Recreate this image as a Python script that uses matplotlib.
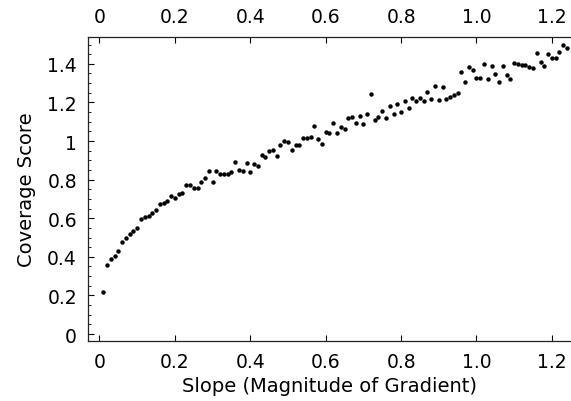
import numpy as np
import matplotlib
matplotlib.use("Agg")
from matplotlib import pyplot as plt
from matplotlib.ticker import MultipleLocator, FixedLocator

# slope values (step 0.01) and coverage scores
slope = np.arange(1, 125) / 100.0
coverage = [
    0.22, 0.36, 0.39, 0.405, 0.43, 0.475, 0.495, 0.52, 0.533, 0.547,
    0.596, 0.608, 0.614, 0.626, 0.641, 0.675, 0.678, 0.688, 0.713, 0.706,
    0.724, 0.731, 0.774, 0.772, 0.758, 0.756, 0.786, 0.807, 0.845, 0.788,
    0.845, 0.829, 0.829, 0.827, 0.839, 0.889, 0.851, 0.846, 0.886, 0.838,
    0.882, 0.872, 0.927, 0.915, 0.948, 0.955, 0.921, 0.979, 0.998, 0.993,
    0.952, 0.979, 0.979, 1.018, 1.017, 1.022, 1.076, 1.010, 0.986, 1.047,
    1.040, 1.092, 1.043, 1.073, 1.064, 1.121, 1.124, 1.095, 1.128, 1.087,
    1.138, 1.242, 1.107, 1.123, 1.155, 1.119, 1.183, 1.138, 1.190, 1.150,
    1.209, 1.171, 1.221, 1.209, 1.223, 1.206, 1.252, 1.216, 1.285, 1.211,
    1.278, 1.218, 1.226, 1.240, 1.250, 1.359, 1.305, 1.383, 1.366, 1.326,
    1.325, 1.401, 1.319, 1.389, 1.348, 1.307, 1.387, 1.341, 1.322, 1.406,
    1.401, 1.394, 1.392, 1.383, 1.380, 1.454, 1.408, 1.390, 1.449, 1.430,
    1.428, 1.461, 1.499, 1.483,
]

xticks = [0, 0.2, 0.4, 0.6, 0.8, 1.0, 1.2]
xticklabels = ["0", "0.2", "0.4", "0.6", "0.8", "1.0", "1.2"]
yticks = [0, 0.2, 0.4, 0.6, 0.8, 1.0, 1.2, 1.4]
yticklabels = ["0", "0.2", "0.4", "0.6", "0.8", "1", "1.2", "1.4"]

plt.rcParams['font.family'] = ['DejaVu Sans']

fig = plt.figure(figsize=(5.71, 4.02), dpi=100)
ax = fig.add_axes([88 / 571, 60.3 / 402, 483 / 571, 303.7 / 402])

ax.plot(slope, coverage, 'o', color='black', ms=3.2, mew=0)

ax.set_xlim(-0.0305, 1.2507)
ax.set_ylim(-0.0347, 1.539)

ax.spines['right'].set_visible(False)
for s in ['left', 'top', 'bottom']:
    ax.spines[s].set_linewidth(0.9)
    ax.spines[s].set_color('#222222')

ax.xaxis.set_major_locator(FixedLocator(xticks))
ax.set_xticklabels(xticklabels)
ax.yaxis.set_major_locator(FixedLocator(yticks))
ax.set_yticklabels(yticklabels)
ax.yaxis.set_minor_locator(MultipleLocator(0.05))

ax.tick_params(axis='x', which='major', direction='in', length=4, width=0.8,
               top=True, labeltop=True, labelsize=13.5, pad=8)
ax.tick_params(axis='y', which='major', direction='in', length=4, width=0.8,
               right=False, labelsize=13.5, pad=8)
ax.tick_params(axis='y', which='minor', direction='in', length=2, width=0.6,
               right=False)

ax.set_xlabel("Slope (Magnitude of Gradient)", fontsize=14, labelpad=4)
ax.set_ylabel("Coverage Score", fontsize=14, labelpad=8)

fig.savefig("out.png", dpi=100)
